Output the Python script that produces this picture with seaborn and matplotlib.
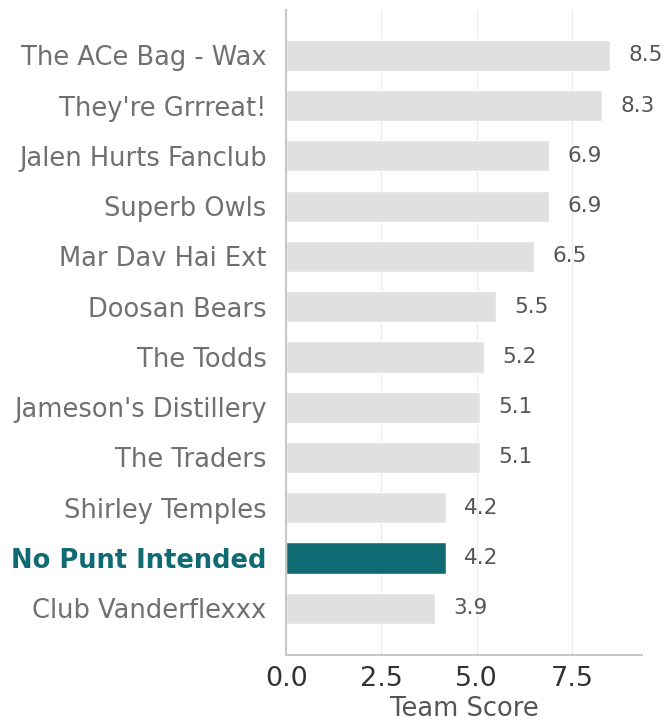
import matplotlib
matplotlib.use("Agg")
import matplotlib.pyplot as plt
import seaborn as sns
import pandas as pd

teams = [
    "The ACe Bag - Wax",
    "They're Grrreat!",
    "Jalen Hurts Fanclub",
    "Superb Owls",
    "Mar Dav Hai Ext",
    "Doosan Bears",
    "The Todds",
    "Jameson's Distillery",
    "The Traders",
    "Shirley Temples",
    "No Punt Intended",
    "Club Vanderflexxx",
]
scores = [8.5, 8.3, 6.9, 6.9, 6.5, 5.5, 5.2, 5.1, 5.1, 4.2, 4.2, 3.9]
highlight = "No Punt Intended"

sns.set_style("whitegrid")
plt.rcParams["font.family"] = ["DejaVu Sans"]

df = pd.DataFrame({"team": teams, "score": scores})
palette = {t: ("#106a73" if t == highlight else "#e0e0e0") for t in teams}

fig, ax = plt.subplots(figsize=(6.67, 7.23), dpi=100)
sns.barplot(data=df, y="team", x="score", hue="team", palette=palette,
            legend=False, width=0.62, ax=ax, saturation=1)

# value labels next to bars
for i, v in enumerate(scores):
    ax.text(v + 0.48, i, f"{v:.1f}", va="center", ha="left", fontsize=15.5, color="#555555")

ax.set_xlim(0, max(scores) * 1.1)
ax.set_ylim(11.93, -0.9)
ax.set_xticks([0, 2.5, 5.0, 7.5])
ax.set_xticklabels(["0.0", "2.5", "5.0", "7.5"])
ax.tick_params(axis="x", labelsize=19.5, labelcolor="#333333", length=0, pad=8)
ax.tick_params(axis="y", labelsize=18.5, length=0, pad=14)
for lbl in ax.get_yticklabels():
    if lbl.get_text() == highlight:
        lbl.set_color("#106a73")
        lbl.set_fontweight("bold")
    else:
        lbl.set_color("#707070")
ax.set_ylabel("")
ax.set_xlabel("Team Score", fontsize=18.5, color="#555555", labelpad=3)
ax.grid(axis="y", visible=False)
ax.grid(axis="x", color="#ebebeb", linewidth=1)
for s in ["top", "right"]:
    ax.spines[s].set_visible(False)
for s in ["left", "bottom"]:
    ax.spines[s].set_color("#c8c8c8")
    ax.spines[s].set_linewidth(1.5)

fig.subplots_adjust(left=0.429, right=0.963, top=0.986, bottom=0.094)
fig.savefig("out.png", dpi=100)
